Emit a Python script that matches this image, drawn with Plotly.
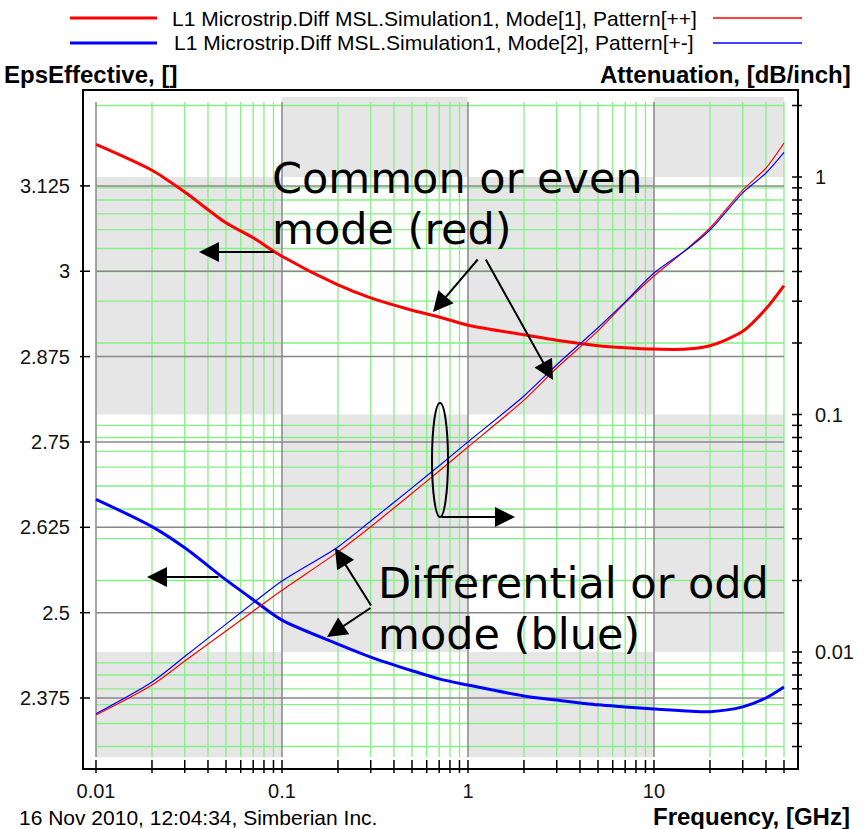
import numpy as np
import plotly.graph_objects as go

# ---------------- data ----------------
freq = [0.01, 0.02, 0.03, 0.05, 0.07, 0.1, 0.2, 0.3, 0.5, 0.7, 1, 2, 3, 5, 7, 10, 15, 20, 30, 40, 50]

eps_mode1 = [3.186, 3.148, 3.116, 3.071, 3.049, 3.022, 2.980, 2.961, 2.943, 2.933, 2.921,
             2.907, 2.899, 2.891, 2.888, 2.886, 2.886, 2.891, 2.912, 2.945, 2.979]
eps_mode2 = [2.666, 2.626, 2.595, 2.548, 2.519, 2.489, 2.454, 2.435, 2.415, 2.403, 2.394,
             2.378, 2.372, 2.365, 2.362, 2.359, 2.356, 2.355, 2.362, 2.375, 2.391]

att_mode1 = [0.00543, 0.00726, 0.00916, 0.01227, 0.01486, 0.0182, 0.0264, 0.0337, 0.0466, 0.0578,
             0.0730, 0.115, 0.157, 0.225, 0.295, 0.383, 0.497, 0.610, 0.881, 1.09, 1.39]
att_mode2 = [0.00550, 0.00748, 0.00957, 0.0131, 0.0161, 0.0199, 0.0277, 0.0356, 0.0491, 0.0608,
             0.0767, 0.1197, 0.162, 0.232, 0.298, 0.394, 0.495, 0.598, 0.857, 1.04, 1.27]

series_names = ["L1 Microstrip.Diff MSL.Simulation1, Mode[1], Pattern[++]",
                "L1 Microstrip.Diff MSL.Simulation1, Mode[2], Pattern[+-]"]

eps_ticks = [2.375, 2.5, 2.625, 2.75, 2.875, 3.0, 3.125]
eps_tick_text = ["2.375", "2.5", "2.625", "2.75", "2.875", "3", "3.125"]
freq_ticks = [0.01, 0.1, 1, 10]
freq_tick_text = ["0.01", "0.1", "1", "10"]
att_ticks = [0.01, 0.1, 1]
att_tick_text = ["0.01", "0.1", "1"]

# ---------------- layout geometry ----------------
W, H = 867, 829
L, R, T, B = 84, 797, 91, 768            # plot frame in pixels
PW, PH = R - L, B - T

x_range = [-2.0645, 1.7689]               # log10 GHz
y_range = [2.2725, 3.264]                 # EpsEffective
y2_range = [-2.4884, 0.3621]              # log10 dB/inch


def px(x):
    return (x - L) / PW


def py(y):
    return (B - y) / PH


def ypix_to_eps(y):
    return y_range[0] + (B - y) / PH * (y_range[1] - y_range[0])


def ypix_to_att(y):
    return 10 ** (y2_range[0] + (B - y) / PH * (y2_range[1] - y2_range[0]))


def xval_to_paper(v):
    return (np.log10(v) - x_range[0]) / (x_range[1] - x_range[0])


def y2val_to_paper(v):
    return (np.log10(v) - y2_range[0]) / (y2_range[1] - y2_range[0])


def yval_to_paper(v):
    return (v - y_range[0]) / (y_range[1] - y_range[0])


X_MIN, X_MAX = 0.01, 50
GRID_TOP, SHADE_TOP, GRID_BOT = 102, 97, 757

RED = "#ff0000"
BLUE = "#0000ff"
GREEN = "#86ef86"
GRAY = "#888888"
SHADE = "#e6e6e6"

fig = go.Figure()
fig.add_trace(go.Scatter(x=freq, y=eps_mode1, mode="lines",
                         line=dict(color=RED, width=3, shape="spline", smoothing=0.8),
                         name=series_names[0], showlegend=False, yaxis="y"))
fig.add_trace(go.Scatter(x=freq, y=eps_mode2, mode="lines",
                         line=dict(color=BLUE, width=3, shape="spline", smoothing=0.8),
                         name=series_names[1], showlegend=False, yaxis="y"))
fig.add_trace(go.Scatter(x=freq, y=att_mode1, mode="lines",
                         line=dict(color=RED, width=1.2, shape="spline", smoothing=0.8),
                         name=series_names[0], showlegend=False, yaxis="y2"))
fig.add_trace(go.Scatter(x=freq, y=att_mode2, mode="lines",
                         line=dict(color=BLUE, width=1.2, shape="spline", smoothing=0.8),
                         name=series_names[1], showlegend=False, yaxis="y2"))

shapes = []
# checkerboard shading
x_edges = [0.01, 0.1, 1, 10, 50]
y2_edges = [ypix_to_att(GRID_BOT), 0.01, 0.1, 1, ypix_to_att(SHADE_TOP)]
for i in range(4):
    for j in range(4):
        if (i + j) % 2 == 0:
            shapes.append(dict(type="rect", xref="x", yref="y2", x0=x_edges[i], x1=x_edges[i + 1],
                               y0=y2_edges[j], y1=y2_edges[j + 1], fillcolor=SHADE,
                               line=dict(width=0), layer="below"))

eps_top = ypix_to_eps(GRID_TOP)
eps_bot = ypix_to_eps(GRID_BOT)
# green vertical minor grid
x_minor = [k * d for d in [0.01, 0.1, 1, 10] for k in range(2, 10) if k * d <= 50]
for v in x_minor:
    shapes.append(dict(type="line", xref="x", yref="y", x0=v, x1=v, y0=eps_bot, y1=eps_top,
                       line=dict(color=GREEN, width=1.3), layer="below"))
# green horizontal minor grid (right axis)
att_lo, att_hi = ypix_to_att(GRID_BOT), ypix_to_att(GRID_TOP)
y2_minor = [k * d for d in [0.001, 0.01, 0.1, 1] for k in range(2, 10) if att_lo < k * d < att_hi]
for v in y2_minor:
    shapes.append(dict(type="line", xref="x", yref="y2", x0=X_MIN, x1=X_MAX, y0=v, y1=v,
                       line=dict(color=GREEN, width=1.3), layer="below"))
# gray major grid
for v in freq_ticks:
    shapes.append(dict(type="line", xref="x", yref="y", x0=v, x1=v, y0=eps_bot, y1=eps_top,
                       line=dict(color=GRAY, width=1.5), layer="below"))
for v in eps_ticks:
    shapes.append(dict(type="line", xref="x", yref="y", x0=X_MIN, x1=X_MAX, y0=v, y1=v,
                       line=dict(color=GRAY, width=1.5), layer="below"))

# crossing tick marks
tick_line = dict(color="black", width=1.5)
for v in sorted(set(freq_ticks + x_minor)):
    xp = xval_to_paper(v)
    shapes.append(dict(type="line", xref="paper", yref="paper", x0=xp, x1=xp,
                       y0=-5 / PH, y1=8 / PH, line=tick_line))
for v in eps_ticks:
    yp = yval_to_paper(v)
    shapes.append(dict(type="line", xref="paper", yref="paper", x0=-4 / PW, x1=6 / PW,
                       y0=yp, y1=yp, line=tick_line))
for v in sorted(set(att_ticks + y2_minor)):
    yp = y2val_to_paper(v)
    shapes.append(dict(type="line", xref="paper", yref="paper", x0=1 - 5 / PW, x1=1 + 5 / PW,
                       y0=yp, y1=yp, line=tick_line))

# ellipse around attenuation curves
shapes.append(dict(type="circle", xref="paper", yref="paper", x0=px(432), x1=px(448),
                   y0=py(517), y1=py(403), line=dict(color="black", width=2)))

# custom legend line samples
legend_rows = [(18, RED), (43, BLUE)]
for yy, col in legend_rows:
    shapes.append(dict(type="line", xref="paper", yref="paper", x0=px(70), x1=px(157),
                       y0=py(yy), y1=py(yy), line=dict(color=col, width=3)))
    shapes.append(dict(type="line", xref="paper", yref="paper", x0=px(713), x1=px(802),
                       y0=py(yy), y1=py(yy), line=dict(color=col, width=1.3)))

annotations = []
REG = "Liberation Sans, Arial, sans-serif"
BIG = "DejaVu Sans, Verdana, sans-serif"


def text(t, x, y, xa="left", size=20, bold=False, family=REG):
    annotations.append(dict(text=("<b>%s</b>" % t) if bold else t, x=px(x), y=py(y),
                            xref="paper", yref="paper", xanchor=xa, yanchor="middle",
                            showarrow=False, font=dict(family=family, size=size, color="black")))


# legend text
text(series_names[0], 434, 18, xa="center", size=21)
text(series_names[1], 434, 43, xa="center", size=21)
# axis titles
text("EpsEffective, []", 2, 75, xa="left", size=24, bold=True)
text("Attenuation, [dB/inch]", 853, 75, xa="right", size=24, bold=True)
text("Frequency, [GHz]", 852, 816, xa="right", size=24, bold=True)
text("16 Nov 2010, 12:04:34, Simberian Inc.", 17, 817, xa="left", size=21)
# big labels
text("Common or even", 270, 178, size=43, family=BIG)
text("mode (red)", 270, 229, size=43, family=BIG)
text("Differential or odd", 376, 583, size=43, family=BIG)
text("mode (blue)", 376, 634, size=43, family=BIG)


def arrow(head, tail):
    hx, hy = head
    tx, ty = tail
    annotations.append(dict(x=px(hx), y=py(hy), xref="paper", yref="paper",
                            ax=tx - hx, ay=ty - hy, showarrow=True, arrowhead=2,
                            arrowsize=2, arrowwidth=2, arrowcolor="black", text=""))


arrow((199, 252), (275, 252))
arrow((433, 312), (479, 258))
arrow((553, 380), (485, 258))
arrow((147, 577), (220, 577))
arrow((515, 517), (440, 517))
arrow((335, 548), (372, 607))
arrow((327, 637), (372, 607))

tickfont = dict(family=REG, size=20, color="#111111")
fig.update_layout(
    width=W, height=H,
    margin=dict(l=L, r=W - R, t=T, b=H - B, pad=0),
    paper_bgcolor="white", plot_bgcolor="white",
    showlegend=False,
    xaxis=dict(type="log", range=x_range, showgrid=False, zeroline=False,
               showline=True, linecolor="black", linewidth=2, mirror=True,
               tickvals=freq_ticks, ticktext=freq_tick_text, ticks="outside",
               ticklen=4, tickcolor="rgba(0,0,0,0)", tickfont=tickfont),
    yaxis=dict(range=y_range, showgrid=False, zeroline=False,
               showline=True, linecolor="black", linewidth=2, mirror=True,
               tickvals=eps_ticks, ticktext=eps_tick_text, ticks="outside",
               ticklen=8, tickcolor="rgba(0,0,0,0)", tickfont=tickfont),
    yaxis2=dict(type="log", range=y2_range, overlaying="y", side="right", anchor="x",
                showgrid=False, zeroline=False, showline=False,
                tickvals=att_ticks, ticktext=att_tick_text, ticks="outside",
                ticklen=13, tickcolor="rgba(0,0,0,0)", tickfont=tickfont),
    shapes=shapes,
    annotations=annotations,
)

fig.write_html("out.html", config={"displayModeBar": False},
               post_script="document.body.style.margin='0';")
